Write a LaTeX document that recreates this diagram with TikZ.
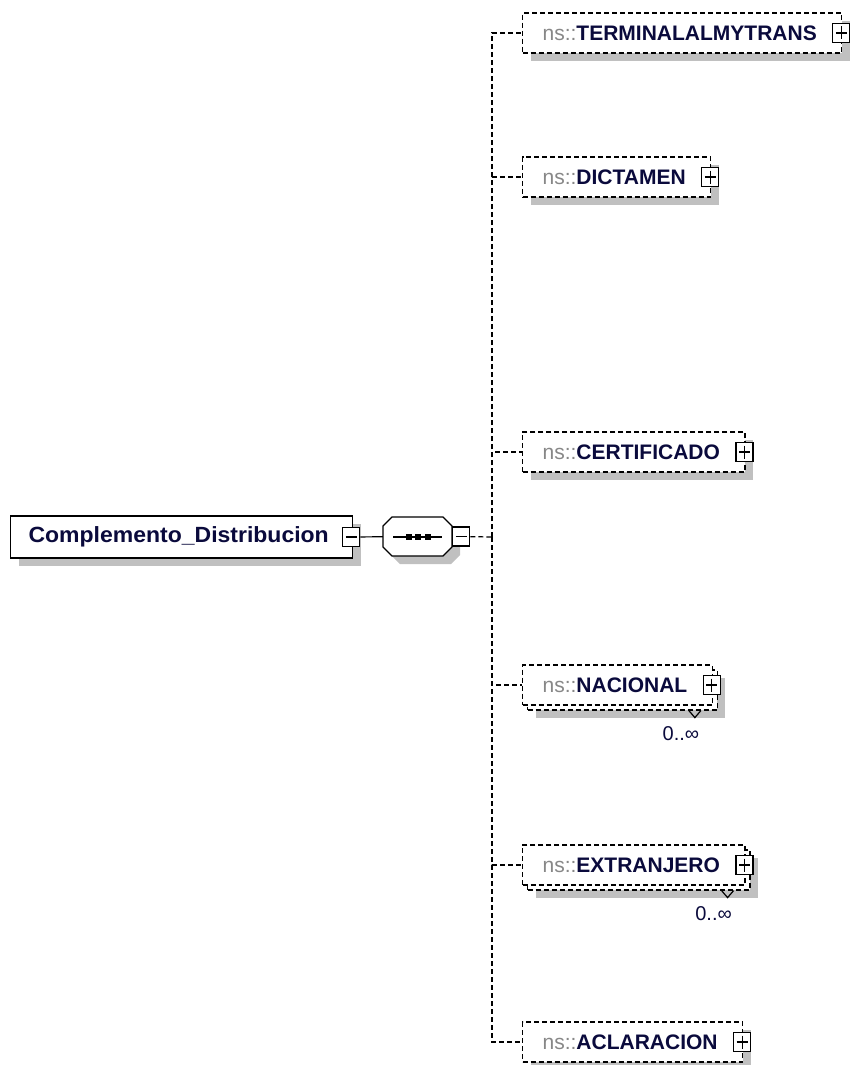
\documentclass[tikz,border=0pt]{standalone}
\usepackage{fontspec}
\setmainfont{Liberation Sans}
\definecolor{nsgrey}{RGB}{135,135,135}
\definecolor{elemblue}{RGB}{10,10,60}
\definecolor{shadowgrey}{RGB}{192,192,192}
\usetikzlibrary{positioning,shadows}

\tikzset{
  conn/.style={line width=1.2pt},
  dconn/.style={line width=1.2pt, dash pattern=on 5pt off 3pt},
  box/.style={draw, line width=1.2pt, fill=white, anchor=west, inner xsep=0pt, text=elemblue},
  elem/.style={box, dash pattern=on 5pt off 3pt, minimum height=40pt,
    font=\fontsize{21}{24}\selectfont\bfseries,
    execute at begin node={\hspace*{20pt}}, execute at end node={\hspace*{25pt}}},
  rootelem/.style={box, solid, minimum height=42pt,
    font=\fontsize{22}{26}\selectfont\bfseries\addfontfeature{FakeStretch=1.045},
    execute at begin node={\hspace*{18pt}}, execute at end node={\hspace*{24pt}}},
  shadowed/.style={general shadow={shadow xshift=8pt, shadow yshift=-8pt, fill=shadowgrey}},
  multi/.style={general shadow={shadow xshift=13pt, shadow yshift=-13pt, fill=shadowgrey},
    general shadow={shadow xshift=5pt, shadow yshift=-5pt, fill=white, draw=black,
      line width=1.2pt, dash pattern=on 5pt off 3pt}},
  togglebox/.style={draw, solid, line width=1.2pt, fill=white, minimum width=17pt,
    minimum height=19pt, inner sep=0pt},
  plusbox/.style={togglebox, path picture={
    \draw[line width=1.2pt] ([xshift=3pt]path picture bounding box.west) -- ([xshift=-3pt]path picture bounding box.east);
    \draw[line width=1.2pt] ([yshift=-3pt]path picture bounding box.north) -- ([yshift=3pt]path picture bounding box.south);}},
  minusbox/.style={togglebox, path picture={
    \draw[line width=1.2pt] ([xshift=3pt]path picture bounding box.west) -- ([xshift=-3pt]path picture bounding box.east);}},
  mult/.style={text=elemblue, font=\fontsize{20}{24}\selectfont, inner sep=0pt}
}
\newcommand{\ns}{\textcolor{nsgrey}{\mdseries ns::}}

\begin{document}
\begin{tikzpicture}[x=1pt,y=-1pt]
  \useasboundingbox (0,0) rectangle (856,1065);
  %% root element
  \node[rootelem, shadowed] (root) at (10,537) {Complemento\_Distribucion};
  \node[minusbox] (root-exp) at ([xshift=-2pt]root.east) {};
  %% sequence compositor
  \fill[shadowgrey] (400,525) -- (451,525) -- (460,534) -- (460,555) -- (451,564)
    -- (400,564) -- (391,555) -- (391,534) -- cycle;
  \draw[line width=1.2pt, fill=white] (392,517) -- (443,517) -- (452,526) -- (452,547)
    -- (443,556) -- (392,556) -- (383,547) -- (383,526) -- cycle;
  \node[minimum width=69pt, minimum height=39pt, inner sep=0pt] (seq) at (417.5,536.5) {};
  \draw[line width=1.2pt] (393,537) -- (442,537);
  \foreach \x in {409,418,428}
    \fill (\x,537) +(-3,-3) rectangle +(3,3);
  \node[minusbox, anchor=west] (seq-exp) at (seq.east) {};
  \draw[conn] (root-exp) -- (seq);
  %% children
  \node[elem, shadowed] (terminal) at (522,33) {\ns TERMINALALMYTRANS};
  \node[elem, shadowed] (dictamen) at (522,177) {\ns DICTAMEN};
  \node[elem, shadowed] (certificado) at (522,452) {\ns CERTIFICADO};
  \node[elem, multi] (nacional) at (522,685) {\ns NACIONAL};
  \node[elem, multi] (extranjero) at (522,865) {\ns EXTRANJERO};
  \node[elem, shadowed] (aclaracion) at (522,1042) {\ns ACLARACION};
  \foreach \c in {terminal,dictamen,certificado,nacional,extranjero,aclaracion}
    \node[plusbox] (\c-exp) at ([xshift=-1pt]\c.east) {};
  %% occurrence marks
  \foreach \c in {nacional,extranjero} {
    \coordinate (\c-v) at ([xshift=-24pt,yshift=-5pt]\c.south east);
    \draw[line width=1.2pt] (\c-v) -- ++(6,7) coordinate (\c-tip) -- ++(6,-7);
    \node[mult] (\c-mult) at ([xshift=-14pt,yshift=-16pt]\c-tip) {0..∞};
  }
  %% connectors
  \coordinate (spine) at (492,537);
  \draw[dconn] (seq-exp) -- (spine);
  \foreach \c in {terminal,dictamen,certificado,nacional,extranjero,aclaracion}
    \draw[dconn] (spine) |- (\c.west);
\end{tikzpicture}
\end{document}
